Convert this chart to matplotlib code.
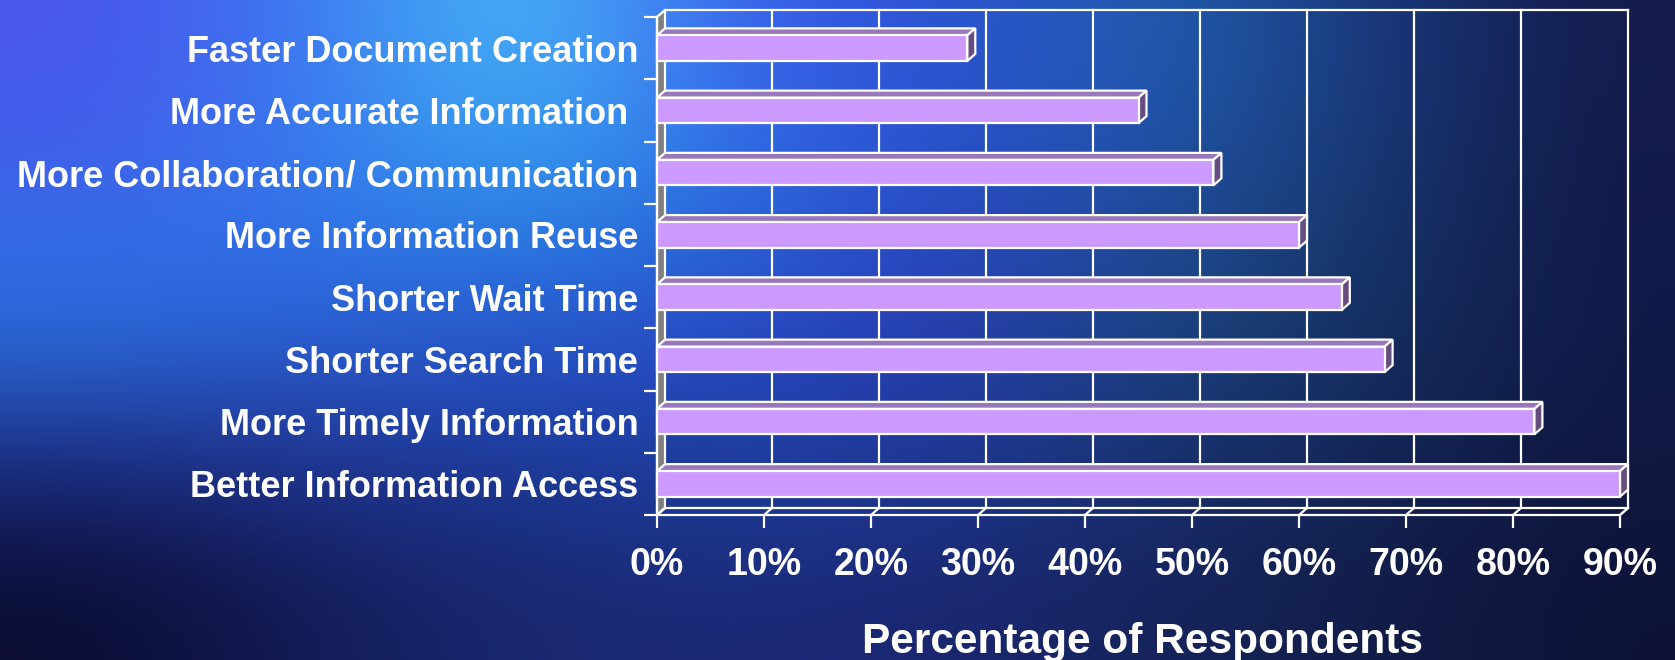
import numpy as np
import matplotlib.pyplot as plt
from matplotlib.patches import Polygon, Rectangle

plt.rcParams['font.family'] = ['Liberation Sans', 'DejaVu Sans']
plt.rcParams['font.weight'] = 'bold'

# data (bottom to top)
categories = [
    "Better Information Access",
    "More Timely Information",
    "Shorter Search Time",
    "Shorter Wait Time",
    "More Information Reuse",
    "More Collaboration/ Communication",
    "More Accurate Information ",
    "Faster Document Creation",
]
values = [90, 82, 68, 64, 60, 52, 45, 29]
xticks = [0, 10, 20, 30, 40, 50, 60, 70, 80, 90]
xtick_labels = [f"{t}%" for t in xticks]
xlabel = "Percentage of Respondents"

W, H = 1675, 660
fig = plt.figure(figsize=(W / 100, H / 100), dpi=100)

# background gradient (slide style)
bg_colors = [
    ["#4a56ec", "#3a78f0", "#48c0f8", "#3c60f0", "#2a50d0", "#2060b0", "#1a3a80", "#141c4c"],
    ["#3a66e8", "#3478ec", "#2a90e8", "#2a70e0", "#2a48c8", "#2050a0", "#183870", "#121a48"],
    ["#2a70e0", "#2a60d8", "#2a58d0", "#2848c8", "#2838b0", "#1a4a80", "#163060", "#101a48"],
    ["#1c2a80", "#223490", "#1a3a98", "#1e40a0", "#203a98", "#1a3070", "#142658", "#0f1840"],
    ["#0a0c30", "#141c58", "#1a2870", "#1c2a78", "#1a2670", "#16245c", "#121e48", "#0e1238"],
]
img = np.array([[[int(c[i:i + 2], 16) / 255 for i in (1, 3, 5)] for c in row] for row in bg_colors])
bg = fig.add_axes([0, 0, 1, 1])
bg.imshow(img, extent=[0, 1, 0, 1], aspect='auto', interpolation='bicubic')
bg.axis('off')

# plot area (front plane)
x0, y_top, x90, y_bot = 657, 17, 1620, 515
ax = fig.add_axes([x0 / W, 1 - y_bot / H, (x90 - x0) / W, (y_bot - y_top) / H])
ax.patch.set_alpha(0)
ax.set_xlim(0, 90)
n = len(categories)
ax.set_ylim(-0.5, n - 0.5)
for s in ax.spines.values():
    s.set_visible(False)

# 3d depth offset in data units
DX = 8 * 90 / (x90 - x0)
DY = 7 * n / (y_bot - y_top)
lw = 1.6
wc = "white"
lo, hi = -0.5, n - 0.5

# left wall
ax.add_patch(Polygon([(0, lo), (DX, lo + DY), (DX, hi + DY), (0, hi)],
                     closed=True, fc="#808080", ec=wc, lw=lw, clip_on=False, zorder=1))
# back wall grid lines and border
for t in xticks[1:]:
    ax.plot([t + DX, t + DX], [lo + DY, hi + DY], color=wc, lw=lw, clip_on=False, zorder=1)
ax.plot([DX, 90 + DX], [hi + DY, hi + DY], color=wc, lw=lw, clip_on=False, zorder=1)
# floor
ax.add_patch(Polygon([(0, lo), (90, lo), (90 + DX, lo + DY), (DX, lo + DY)],
                     closed=True, fill=False, ec=wc, lw=lw, clip_on=False, zorder=1))
for t in xticks:
    ax.plot([t, t + DX], [lo, lo + DY], color=wc, lw=lw, clip_on=False, zorder=1)
# front left axis
ax.plot([0, 0], [lo, hi], color=wc, lw=lw, clip_on=False, zorder=2)

# bars
h = 0.41
for i, v in enumerate(values):
    yb, yt = i - h / 2, i + h / 2
    ax.add_patch(Polygon([(0, yt), (v, yt), (v + DX, yt + DY), (DX, yt + DY)],
                         closed=True, fc="#9977bb", ec=wc, lw=lw, clip_on=False, zorder=3))
    ax.add_patch(Polygon([(v, yb), (v + DX, yb + DY), (v + DX, yt + DY), (v, yt)],
                         closed=True, fc="#664d80", ec=wc, lw=lw, clip_on=False, zorder=3))
    ax.add_patch(Rectangle((0, yb), v, h, fc="#cc99ff", ec=wc, lw=lw, clip_on=False, zorder=4))

# ticks
ax.set_xticks(xticks)
ax.set_xticklabels(xtick_labels)
ax.tick_params(axis='x', colors=wc, length=9, width=lw, pad=14, labelsize=27)
ax.set_yticks(np.arange(-0.5, n, 1.0))
ax.set_yticklabels([])
ax.tick_params(axis='y', which='major', colors=wc, length=9.5, width=lw)
ax.set_yticks(np.arange(n), minor=True)
ax.set_yticklabels(categories, minor=True)
ax.tick_params(axis='y', which='minor', colors=wc, length=0, pad=13.5, labelsize=26)
for lab in ax.get_xticklabels() + ax.get_yticklabels(minor=True):
    lab.set_fontweight('bold')

fig.text(1143 / W, 1 - 642 / H, xlabel, color=wc, fontsize=30.5,
         fontweight='bold', ha='center', va='center')

fig.savefig("out.png", dpi=100)
